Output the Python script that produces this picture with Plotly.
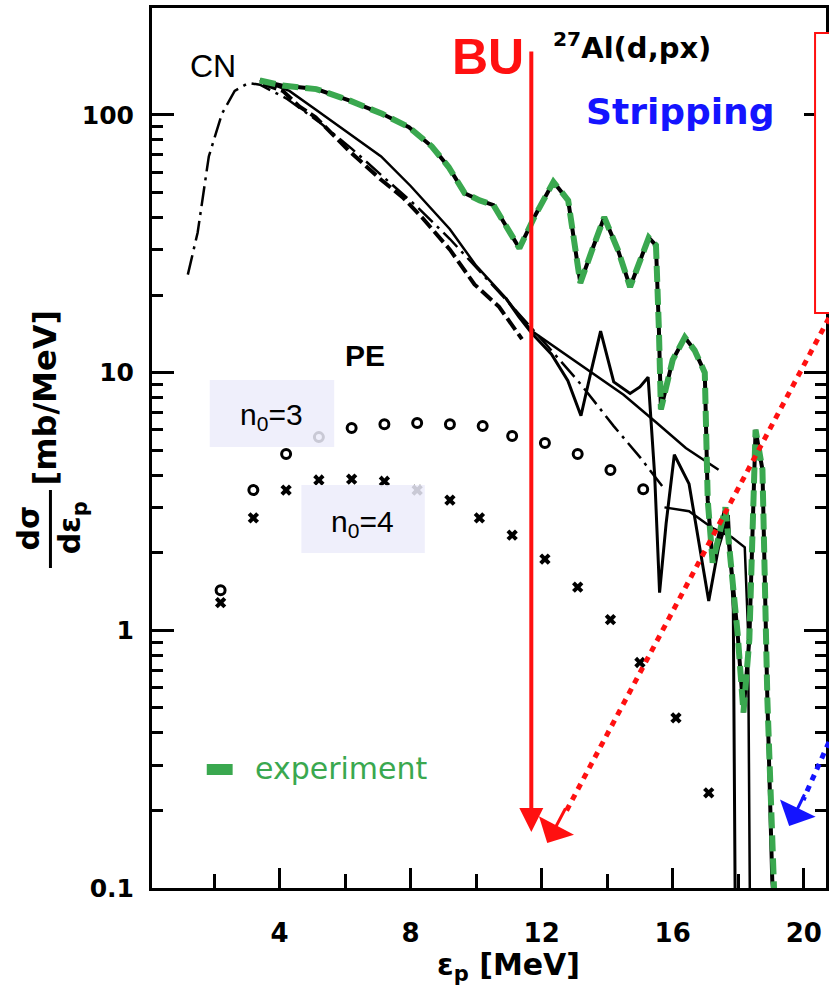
import plotly.graph_objects as go

# ---------------- data ----------------
exp_x = [3.40, 4.09, 5.12, 6.12, 7.13, 7.95, 8.65, 9.16, 9.65, 10.11, 10.53, 10.93, 11.32, 11.81, 12.36,
         12.81, 13.18, 13.54, 13.91, 14.33, 14.70, 15.27, 15.49, 15.58, 15.64, 16.0, 16.37, 16.67, 16.98,
         17.07, 17.22, 17.61, 17.98, 18.16, 18.34, 18.53, 18.74, 18.89, 19.04, 19.12]
exp_y = [136, 130, 126, 114, 101, 89.6, 75.4, 62.8, 49.7, 46.6, 44.7, 36.5, 30.4, 40.9, 55,
         46.6, 22.3, 29.9, 40.1, 29.9, 21.5, 33.4, 31.2, 14.6, 7.2, 11.2, 13.7, 12.2, 10.0,
         3.2, 1.83, 3.0, 0.98, 0.48, 0.92, 6.0, 4.2, 0.54, 0.107, 0.08]

cn_x = [1.2, 1.5, 1.84, 2.24, 2.63, 3.05, 3.4, 4.2, 5.2, 6.2, 7.2, 8.2, 9.2, 10.2, 11.2, 12.2, 13.2, 14.2, 15.0, 15.7]
cn_y = [24, 35, 69, 101, 124, 133, 131, 116, 94, 74, 57, 44, 33, 24, 17.5, 12.6, 9.0, 6.2, 4.7, 3.6]

pe_x = [3.5, 4.1, 4.6, 5.1, 6.1, 7.1, 7.75, 8.35, 9.2, 9.95, 10.7, 11.4]
pe_y = [132, 124, 108, 98, 73, 56, 48, 40, 30, 22, 18, 13.5]

tot_x = [3.4, 4.3, 5.1, 6.1, 7.1, 8.0, 8.4, 9.2, 10.0, 10.9, 11.7, 12.5, 13.5, 14.5, 15.5, 16.4, 17.4]
tot_y = [137, 124, 105, 85, 69, 53, 46.5, 36, 26, 19.5, 14.5, 12.3, 10.0, 8.2, 6.4, 5.1, 4.2]

osc_x = [10.9, 11.3, 11.7, 12.3, 12.8, 13.2, 13.5, 13.8, 14.2, 14.7, 15.0, 15.25, 15.45, 15.6, 15.8,
         16.05, 16.5, 16.8, 17.1, 17.4, 17.7, 17.85, 17.92]
osc_y = [19.5, 16.5, 14.2, 11.8, 9.3, 6.8, 10.0, 14.5, 9.2, 8.3, 8.8, 9.6, 4.0, 1.4, 2.6,
         4.8, 3.7, 2.2, 1.3, 2.1, 2.8, 1.2, 0.05]

low_x = [15.75, 16.5, 17.2, 17.8, 18.2, 18.3, 18.37]
low_y = [3.0, 2.9, 2.5, 2.3, 2.1, 1.0, 0.05]

n3_x = [2.2, 3.2, 4.2, 5.2, 6.2, 7.2, 8.2, 9.2, 10.2, 11.1, 12.1, 13.1, 14.1, 15.1]
n3_y = [1.43, 3.50, 4.83, 5.62, 6.10, 6.31, 6.37, 6.31, 6.21, 5.68, 5.33, 4.83, 4.19, 3.53]

n4_x = [2.2, 3.2, 4.2, 5.2, 6.2, 7.2, 8.2, 9.2, 10.1, 11.1, 12.1, 13.1, 14.1, 15.0, 16.1, 17.1]
n4_y = [1.28, 2.73, 3.50, 3.83, 3.86, 3.79, 3.50, 3.20, 2.73, 2.34, 1.89, 1.47, 1.10, 0.75, 0.457, 0.234]

x_ticks = [4, 8, 12, 16, 20]
y_ticks = [0.1, 1, 10, 100]
y_ticktext = ["0.1", "1", "10", "100"]

# ---------------- layout helpers (pixel -> paper) ----------------
W, H = 829, 994
L, R, T, B = 152, 829, 8, 888


def px(x):
    return (x - L) / (R - L)


def py(y):
    return (B - y) / (B - T)


GREEN = "#3aa84f"
RED = "#ff1010"
BLUE = "#1414ff"

fig = go.Figure()

fig.add_trace(go.Scatter(x=cn_x, y=cn_y, mode="lines",
                         line=dict(color="black", width=2.5, dash="20px,6px,3px,6px"), hoverinfo="skip"))
fig.add_trace(go.Scatter(x=pe_x, y=pe_y, mode="lines",
                         line=dict(color="black", width=4, dash="14px,5px"), hoverinfo="skip"))
fig.add_trace(go.Scatter(x=tot_x, y=tot_y, mode="lines",
                         line=dict(color="black", width=2.5), hoverinfo="skip"))
fig.add_trace(go.Scatter(x=osc_x, y=osc_y, mode="lines",
                         line=dict(color="black", width=3), hoverinfo="skip"))
fig.add_trace(go.Scatter(x=low_x, y=low_y, mode="lines",
                         line=dict(color="black", width=2.5), hoverinfo="skip"))
fig.add_trace(go.Scatter(x=exp_x, y=exp_y, mode="lines",
                         line=dict(color="black", width=4), hoverinfo="skip"))
fig.add_trace(go.Scatter(x=exp_x, y=exp_y, mode="lines",
                         line=dict(color=GREEN, width=6, dash="16px,7px"), hoverinfo="skip"))
fig.add_trace(go.Scatter(x=n3_x, y=n3_y, mode="markers",
                         marker=dict(symbol="circle-open", size=9, color="black", line=dict(width=3)),
                         hoverinfo="skip"))
fig.add_trace(go.Scatter(x=n4_x, y=n4_y, mode="markers",
                         marker=dict(symbol="x", size=10, color="black", line=dict(width=0)),
                         hoverinfo="skip"))

shapes = []
annotations = []

shapes.append(dict(type="rect", xref="paper", yref="paper", x0=px(210), x1=px(335), y0=py(447), y1=py(380),
                   fillcolor="rgba(236,236,250,0.85)", line=dict(width=0), layer="above"))
shapes.append(dict(type="rect", xref="paper", yref="paper", x0=px(302), x1=px(426), y0=py(553), y1=py(485),
                   fillcolor="rgba(236,236,250,0.85)", line=dict(width=0), layer="above"))
shapes.append(dict(type="rect", xref="paper", yref="paper", x0=px(818), x1=px(840), y0=py(313), y1=py(33),
                   fillcolor="white", line=dict(color=RED, width=2), layer="above"))
shapes.append(dict(type="line", xref="paper", yref="paper", x0=px(832), y0=py(318), x1=px(566), y1=py(815),
                   line=dict(color=RED, width=5, dash="6px,6px"), layer="above"))
shapes.append(dict(type="line", xref="paper", yref="paper", x0=px(832), y0=py(742), x1=px(806), y1=py(800),
                   line=dict(color=BLUE, width=5, dash="6px,6px"), layer="above"))
shapes.append(dict(type="rect", xref="paper", yref="paper", x0=px(207), x1=px(233), y0=py(775), y1=py(764),
                   fillcolor=GREEN, line=dict(width=0), layer="above"))
shapes.append(dict(type="line", xref="paper", yref="paper", x0=px(50), x1=px(50), y0=py(490), y1=py(568),
                   line=dict(color="black", width=3)))


def txt(x, y, text, size, color="black", family="Liberation Sans", angle=0, bold=False):
    if bold:
        text = "<b>" + text + "</b>"
    annotations.append(dict(xref="paper", yref="paper", x=px(x), y=py(y), text=text, showarrow=False,
                            font=dict(size=size, color=color, family=family), textangle=angle,
                            xanchor="center", yanchor="middle"))


txt(213, 66, "CN", 32)
txt(366, 355, "PE", 30, bold=True)
txt(489, 57, "BU", 50, color=RED, bold=True)
txt(634, 46, "<sup>27</sup>Al(d,px)", 29, family="DejaVu Sans", bold=True)
txt(683, 112, "Stripping", 36, color=BLUE, family="DejaVu Sans", bold=True)
txt(272, 416, "n<sub>0</sub>=3", 30)
txt(363, 523, "n<sub>0</sub>=4", 30)
txt(342, 768, "experiment", 30, color=GREEN, family="DejaVu Sans")
txt(510, 966, "ε<sub>p</sub> [MeV]", 30, family="DejaVu Sans", bold=True)
txt(45, 397, "[mb/MeV]", 32, family="DejaVu Sans", angle=-90, bold=True)
txt(28, 528, "dσ", 30, family="DejaVu Sans", angle=-90, bold=True)
txt(72, 528, "dε<sub>p</sub>", 30, family="DejaVu Sans", angle=-90, bold=True)

# BU vertical arrow
annotations.append(dict(xref="paper", yref="paper", x=px(533), y=py(832), ax=0, ay=-(832 - 50),
                        text="", showarrow=True, arrowhead=2, arrowsize=1.2, arrowwidth=4, arrowcolor=RED))
# red dotted arrow head
annotations.append(dict(xref="paper", yref="paper", x=px(549), y=py(843), ax=19, ay=-36,
                        text="", showarrow=True, arrowhead=1, arrowsize=2.2, arrowwidth=3, arrowcolor=RED))
# blue dotted arrow head
annotations.append(dict(xref="paper", yref="paper", x=px(792), y=py(826), ax=16, ay=-33,
                        text="", showarrow=True, arrowhead=1, arrowsize=2.2, arrowwidth=3, arrowcolor=BLUE))

minor_y = [v * m for v in [0.1, 1, 10] for m in range(2, 10)]

fig.update_layout(
    width=W, height=H,
    margin=dict(l=L, r=W - R, t=T, b=H - B),
    paper_bgcolor="white", plot_bgcolor="white",
    showlegend=False,
    font=dict(family="Liberation Sans", color="black"),
    shapes=shapes, annotations=annotations,
    xaxis=dict(range=[0.106, 20.68], showgrid=False, zeroline=False,
               showline=True, linecolor="black", linewidth=3, mirror=True,
               tickmode="array", tickvals=x_ticks, ticks="inside", ticklen=20, tickwidth=3,
               tickcolor="black", ticklabelstandoff=20,
               tickfont=dict(size=26, family="DejaVu Sans", color="black", weight="bold"),
               minor=dict(tickmode="linear", tick0=2, dtick=4, ticks="inside", ticklen=14,
                          tickwidth=2.5, tickcolor="black", showgrid=False)),
    yaxis=dict(type="log", range=[-1, 2.415], showgrid=False, zeroline=False,
               showline=True, linecolor="black", linewidth=3, mirror="ticks",
               tickmode="array", tickvals=y_ticks, ticktext=y_ticktext,
               ticks="inside", ticklen=22, tickwidth=3, tickcolor="black", ticklabelstandoff=10,
               tickfont=dict(size=25, family="DejaVu Sans", color="black", weight="bold"),
               minor=dict(tickmode="array", tickvals=minor_y, ticks="inside", ticklen=11,
                          tickwidth=2.5, tickcolor="black", showgrid=False)),
)

fig.write_html("out.html")
